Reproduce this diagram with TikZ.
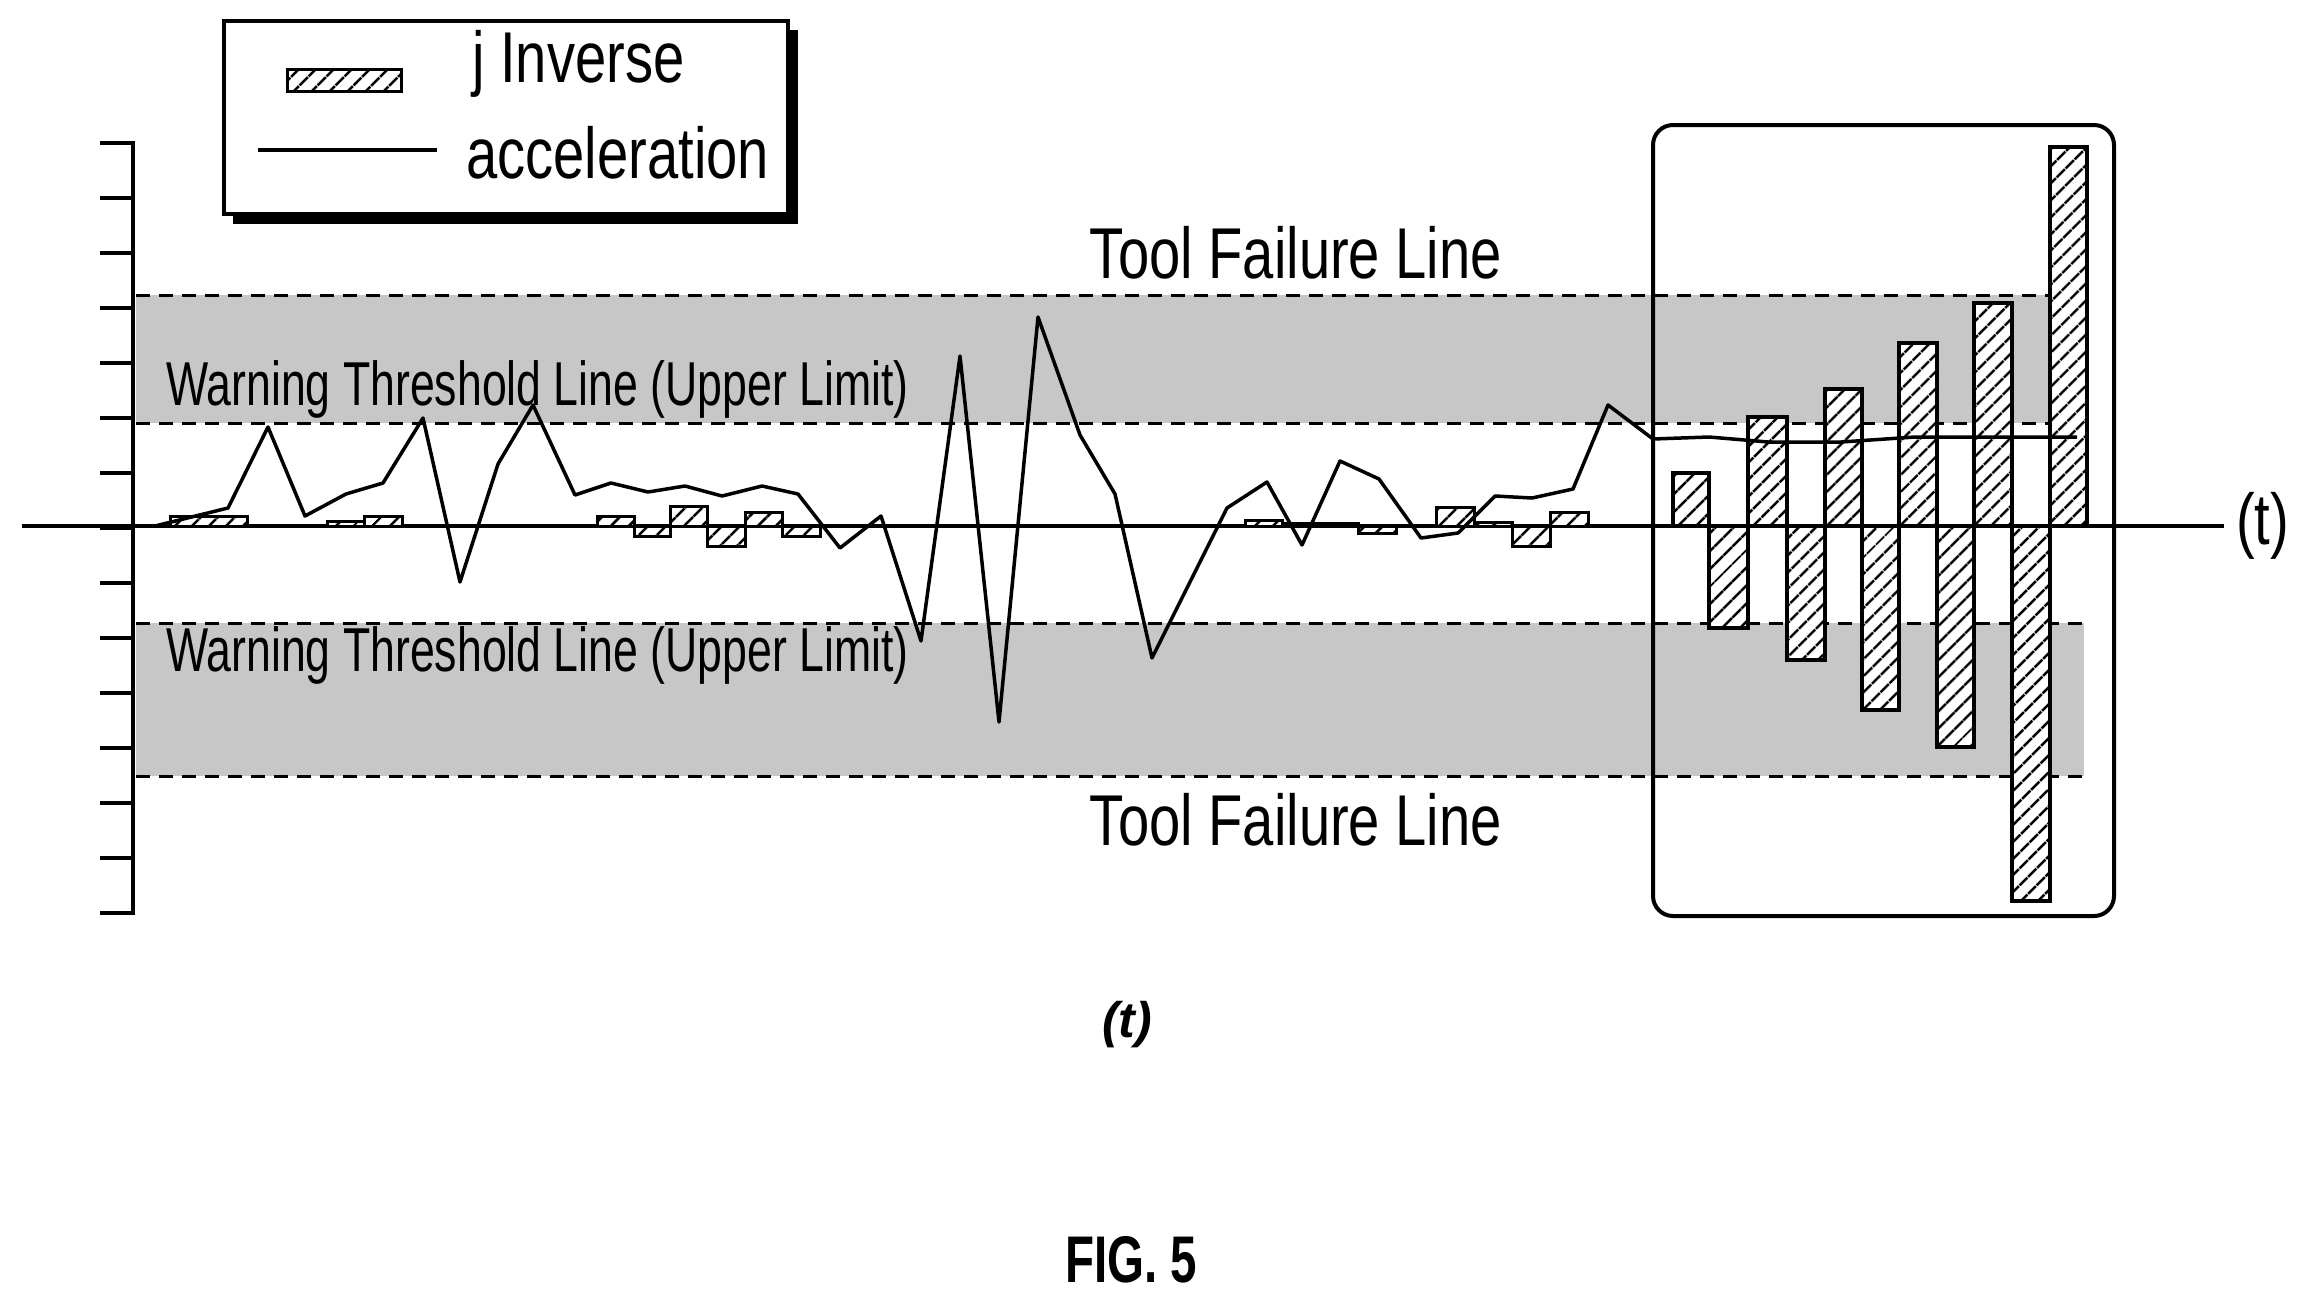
\documentclass[tikz,border=0pt]{standalone}
\usepackage{fontspec}
\setmainfont{Liberation Sans}
\newfontfamily\condfont[FakeStretch=0.72]{Liberation Sans}
\newfontfamily\legfont[FakeStretch=0.78]{Liberation Sans}
\usetikzlibrary{patterns.meta}
\tikzset{
  band/.style={fill=black!22, draw=none},
  limit/.style={dash pattern=on 14pt off 9pt, line width=3pt},
  hatchbar/.style={draw, line width=4pt, fill=white,
    postaction={pattern={Lines[angle=45,distance=13pt,line width=3pt]}}},
  label/.style={font=\condfont\fontsize{62}{64}\selectfont, inner sep=0pt},
  biglabel/.style={font=\legfont\fontsize{72}{74}\selectfont, inner sep=0pt},
  trace/.style={line width=3.5pt, line join=round}
}
\begin{document}
\begin{tikzpicture}[x=1pt, y=-1pt]
  \useasboundingbox (0,0) rectangle (2298,1301);
  % shaded bands
  \fill[band] (136,295) rectangle (2084,423);
  \fill[band] (136,623) rectangle (2084,776);
  \begin{scope}[limit]
    \draw (136,295) -- (2084,295); \draw (136,423) -- (2084,423);
    \draw (136,623) -- (2084,623); \draw (136,776) -- (2084,776);
  \end{scope}
  % vertical axis and ticks
  \draw[line width=4pt] (100,143) -- (133,143) -- (133,913) -- (100,913);
  \foreach \k in {1,...,13}
    \draw[line width=4pt] (100,{143+\k*55}) -- (133,{143+\k*55});
  % time axis
  \coordinate (t0) at (22,526);
  \coordinate (t1) at (2224,526);
  \draw[line width=4pt] (t0) -- (t1);
  \node[biglabel, anchor=west] (tax) at (2236,526) {(t)};
  % small bars (j inverse)
  \foreach \a/\b/\h in {170/247/-10, 327/364/-5, 364/402/-10, 597/634/-10,
      634/670/10, 670/707/-20, 707/745/20, 745/782/-14, 782/820/10,
      1245/1282/-6, 1282/1320/-3, 1320/1358/-3, 1358/1396/7, 1436/1474/-19,
      1474/1512/-4, 1512/1550/20, 1550/1588/-14}
    \draw[hatchbar, line width=3pt] (\a,526) rectangle (\b,526+\h);
  % large bars in the box
  \foreach \a/\b/\y in {1673/1709/473, 1709/1748/628, 1748/1787/417,
      1787/1825/660, 1825/1862/389, 1862/1899/710, 1899/1937/343,
      1937/1974/747, 1974/2012/303, 2012/2050/901, 2050/2087/147}
    \draw[hatchbar] (\a,526) rectangle (\b,\y);
  % acceleration trace
  \draw[trace] plot coordinates {(155,526) (228,508) (268,427) (305,516)
    (346,494) (383,483) (423,418) (460,582) (498,464) (533,405) (575,495)
    (611,483) (648,492) (685,486) (722,496) (762,486) (798,494) (840,548)
    (881,516) (921,641) (960,356) (999,722) (1038,317) (1080,435) (1115,494)
    (1152,658) (1190,582) (1227,508) (1267,482) (1302,545) (1340,461)
    (1379,479) (1421,538) (1458,533) (1495,496) (1532,498) (1573,489)
    (1608,405) (1653,439) (1709,437) (1768,442) (1841,442) (1915,437)
    (2077,437)};
  % highlight box
  \draw[line width=4pt, rounded corners=20pt] (1653,125) rectangle (2114,916);
  % limit labels
  \node[biglabel] (failtop) at (1296,253) {Tool Failure Line};
  \node[biglabel] (failbot) at (1296,820) {Tool Failure Line};
  \node[label, anchor=west] (warntop) at (166,389) {Warning Threshold Line (Upper Limit)};
  \node[label, anchor=west] (warnbot) at (166,655) {Warning Threshold Line (Upper Limit)};
  % legend
  \fill (233,30) rectangle (798,224);
  \draw[line width=4pt, fill=white] (224,21) rectangle (788,214);
  \draw[hatchbar, line width=3pt] (287,69) rectangle (401,91);
  \coordinate (lg0) at (258,150);
  \coordinate (lg1) at (437,150);
  \draw[line width=4pt] (lg0) -- (lg1);
  \node[biglabel, anchor=west] (lginv) at (472,64) {j Inverse};
  \node[biglabel, anchor=west] (lgacc) at (466,153) {acceleration};
  % captions
  \node[font=\bfseries\itshape\fontsize{50}{52}\selectfont] (tcap) at (1127,1025) {(t)};
  \node[font=\condfont\bfseries\fontsize{66}{68}\selectfont] (fig) at (1131,1260) {FIG. 5};
\end{tikzpicture}
\end{document}
